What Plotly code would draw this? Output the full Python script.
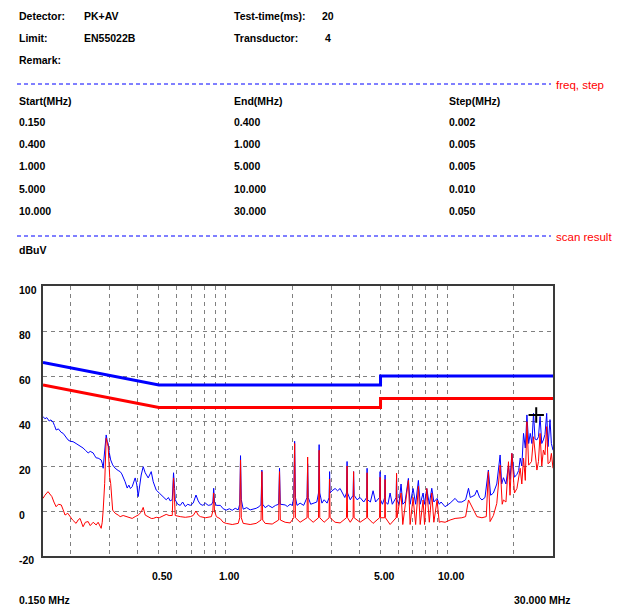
import math
import plotly.graph_objects as go

# ---------------- data ----------------
limit_freq = [0.15, 0.5, 5.0, 5.0, 30.0]
qp_limit = [66, 56, 56, 60, 60]
av_limit = [56, 46, 46, 50, 50]

pk_freq = [0.150, 0.153, 0.156, 0.160, 0.163, 0.1665, 0.169, 0.172, 0.176, 0.181, 0.185, 0.189, 0.1945, 0.199,
           0.205, 0.2115, 0.216, 0.2204, 0.2274, 0.233, 0.2398, 0.245, 0.2526, 0.257, 0.2606, 0.266, 0.2745,
           0.278, 0.2803, 0.283, 0.2865, 0.2892, 0.2925, 0.2952, 0.2985, 0.3030, 0.3093, 0.3174, 0.3275, 0.3344,
           0.340, 0.3450, 0.352, 0.3597, 0.366, 0.372, 0.3788, 0.3908, 0.397, 0.4032, 0.409, 0.4160, 0.4248,
           0.4337, 0.4474, 0.4617, 0.4714, 0.4863, 0.5017, 0.5123, 0.5396, 0.552, 0.562, 0.5744, 0.5822,
           0.5885, 0.5925, 0.608, 0.6242, 0.640, 0.6578, 0.675, 0.6929, 0.714, 0.7353, 0.752, 0.7690, 0.790,
           0.8099, 0.835, 0.8626, 0.876, 0.8835, 0.891, 0.9085, 0.9471, 0.975, 1.0063, 1.04, 1.0711, 1.105,
           1.1400, 1.158, 1.1675, 1.177, 1.2006, 1.245, 1.2907, 1.3738, 1.42, 1.445, 1.4577, 1.470, 1.5082,
           1.56, 1.6222, 1.68, 1.735, 1.7508, 1.765, 1.8560, 1.90, 1.9548, 2.00, 2.030, 2.0484, 2.066, 2.10,
           2.1686, 2.25, 2.33, 2.3449, 2.36, 2.42, 2.4828, 2.58, 2.625, 2.6420, 2.66, 2.72, 2.7831, 2.87, 2.93,
           2.9464, 2.96, 3.02, 3.1191, 3.2, 3.2856, 3.38, 3.45, 3.51, 3.5319, 3.55, 3.65, 3.76, 3.7791, 3.80,
           3.92, 4.0426, 4.2, 4.33, 4.3483, 4.37, 4.5, 4.6277, 4.75, 4.95, 4.9771, 5.00, 5.10, 5.22, 5.2420,
           5.26, 5.4, 5.5214, 5.65, 5.88, 5.9062, 5.93, 6.05, 6.1886, 6.3, 6.45, 6.6775, 6.8, 7.0116, 7.2,
           7.4083, 7.55, 7.7795, 7.9, 8.0836, 8.3, 8.5154, 8.7, 8.9960, 9.2, 9.3790, 9.7777, 10.30, 10.85,
           11.2, 11.64, 12.1, 12.47, 12.7, 12.92, 13.3, 13.61, 14.0, 14.34, 14.8, 15.33, 15.7, 16.15, 16.73,
           17.32, 17.6, 17.93, 18.4, 18.89, 19.2, 19.57, 20.1, 20.62, 21.0, 21.34, 21.7, 22.09, 22.5, 22.88,
           23.3, 23.68, 24.1, 24.50, 24.9, 25.38, 25.8, 26.23, 26.7, 27.15, 27.6, 28.10, 28.5, 29.08, 29.5, 30.0]
pk_level = [42, 41, 41.5, 40, 40.5, 39.5, 38, 36, 36.5, 35, 34.5, 33, 31.6, 31,
            30.8, 30, 29.5, 29, 28, 27, 25.8, 26.5, 25.8, 24.5, 23.6, 23.5, 22.7,
            21, 19, 24, 30, 33.8, 31, 30, 26, 22.7, 20.5, 19, 18, 17.5,
            16.5, 15.2, 13, 10.2, 11.5, 10, 10.8, 14.7, 12, 6.4, 12, 16, 19.7,
            17, 14.7, 17.5, 13, 9.3, 8, 7.1, 5, 6, 4.5, 5, 17,
            10, 5, 3, 2.5, 4, 2, 3, 2.5, 3.5, 7.1, 4.5, 3, 2.5,
            3.5, 2.5, 2.8, 4, 10.1, 4, 2.5, 2.5, 1, 0.4, 1, 0.3, 1.2,
            0.5, 3, 24.6, 5, 0.8, 1.5, 0.5, 1.2, 2, 3, 18.2, 3, 1.5,
            2.5, 1.5, 2.5, 3, 19, 3, 2.7, 2, 3, 2.5, 6, 31, 6, 2.5,
            3.5, 2.5, 6, 21, 6, 3, 3.5, 4, 8, 29.5, 8, 3.5, 5, 3.5, 6,
            17.5, 8, 9, 10, 9, 10, 8, 6, 8, 22, 8, 5, 7, 17.5, 7,
            5, 6, 4, 6, 19, 5, 4, 9, 4, 6, 17.5, 5, 3, 6, 16,
            4, 3, 8, 3, 6, 16, 5, 3, 12, 3, 4, 14.5, 3, 10, 3,
            13.6, 3, 8, 3, 10, 3, 10.1, 4, 5.6, 3, 4, 1.9, 3.5, 5.6,
            4, 4, 5, 10.1, 6, 6.4, 7, 9.3, 6, 4.9, 6, 18.2, 7, 8, 12,
            24.9, 12, 14.8, 12, 20.4, 14, 25.6, 15, 16.3, 18, 23.5, 20, 34.5, 28, 42.7,
            30, 34.5, 30, 43.4, 32, 31.6, 33, 42, 30, 31.6, 34, 43.4, 28.6, 40.6, 30, 27]

av_freq = [0.150, 0.153, 0.158, 0.161, 0.1645, 0.168, 0.1719, 0.176, 0.1813, 0.185, 0.1886, 0.194, 0.1986,
           0.204, 0.2115, 0.216, 0.2204, 0.2274, 0.233, 0.2398, 0.245, 0.2526, 0.2606, 0.266, 0.2745, 0.2775,
           0.2803, 0.2847, 0.2892, 0.2952, 0.3000, 0.3030, 0.3093, 0.3174, 0.3275, 0.3344, 0.3450, 0.3597,
           0.3788, 0.3908, 0.4032, 0.4160, 0.4248, 0.4337, 0.4474, 0.4617, 0.4714, 0.4863, 0.5017, 0.5396,
           0.556, 0.5744, 0.5822, 0.5885, 0.5925, 0.624, 0.6578, 0.6929, 0.714, 0.7353, 0.752, 0.7690, 0.8099,
           0.8626, 0.876, 0.8835, 0.891, 0.9085, 0.9471, 0.975, 1.0063, 1.0711, 1.1400, 1.158, 1.1675, 1.177,
           1.2006, 1.2907, 1.3738, 1.445, 1.4577, 1.470, 1.5082, 1.6222, 1.735, 1.7508, 1.765, 1.8560, 1.9548,
           2.030, 2.0484, 2.066, 2.1686, 2.33, 2.3449, 2.36, 2.4828, 2.625, 2.6420, 2.66, 2.7831, 2.93, 2.9464,
           2.96, 3.1191, 3.2856, 3.51, 3.5319, 3.55, 3.65, 3.76, 3.7791, 3.80, 4.0426, 4.33, 4.3483, 4.37,
           4.6277, 4.95, 4.9771, 5.00, 5.22, 5.2420, 5.26, 5.5214, 5.88, 5.9062, 5.93, 6.1886, 6.3, 6.6775,
           6.8, 7.0116, 7.2, 7.4083, 7.55, 7.7795, 7.9, 8.0836, 8.3, 8.5154, 8.7, 8.9960, 9.2, 9.3790, 9.7777,
           10.30, 10.85, 11.64, 12.1, 12.47, 12.92, 13.61, 14.34, 15.0, 15.33, 15.6, 16.15, 16.73, 17.32, 17.7,
           17.93, 18.4, 18.89, 19.2, 19.57, 20.1, 20.62, 21.34, 21.7, 22.09, 22.5, 22.88, 23.3, 24.0, 24.50,
           25.0, 25.38, 25.8, 26.23, 26.7, 27.15, 27.6, 28.10, 28.5, 29.08, 29.5, 30.0]
av_level = [5.6, 7, 8.6, 7.5, 6.4, 4, 1.9, 3, 2.7, 0.5, -1.8, -1, -2.5,
            -4, -5.5, -4, -3.3, -7, -5, -4.7, -6.5, -5, -6.2, -5, -7.7, -5,
            0.4, 12.3, 32.3, 28.6, 15, 12.3, 0.4, -1, -1.8, -2.5, -2, -2.5,
            -3.3, -2.5, -1.8, -0.5, 1.6, -1.8, -2.5, -3.3, -3.3, -2.8, -3, -1.5,
            -2, -2, 14.7, 3, -2, -2.5, -2.8, -2.5, -2, 0, -1.8, -2.5, -3,
            -2.5, 0, 8, 0, -2.5, -3.5, -5, -5.5, -6, -5.5, -3, 22.7, -3,
            -5.5, -6, -5.5, -4, 17.5, -4, -5.5, -5.8, -4, 17.5, -4, -5, -5.3,
            -3, 30, -3, -5, -3, 24, -3, -5, -3, 27, -3, -5, -3, 14.2,
            -3, -5, -5.3, -3, 20, -3, -5, -3, 17.5, -3, -5, -3, 17, -3,
            -5.5, -3, 15, -3, -3, 14, -3, -6, -3, 16.8, -3, 8, -6, 13.6,
            -6, 6, -6, 11, -6, 4.9, -6, 10, -5, 8, -5, 4.9, -5, -4.7, -5,
            -4, -3.3, -3, -2.5, 4.9, 1.9, -2.5, -3, -2.5, 17.5, -4.7, -2, 3.4, 20.4, 3,
            4.9, 4, 21.9, 7, 25.6, 8, 10, 19, 12, 23.5, 13.6, 39.7, 20.4, 22, 33,
            25, 18.2, 22, 34.5, 20, 27.1, 25, 37.5, 21, 21.8, 25.6, 19]

marker_freq = [25.2]
marker_level = [42.7]

y_ticks = [100, 80, 60, 40, 20, 0, -20]
x_label_vals = [0.5, 1.0, 5.0, 10.0]
x_label_text = ["0.50", "1.00", "5.00", "10.00"]
x_grid_vals = [0.2, 0.3, 0.4, 0.5, 0.6, 0.7, 0.8, 0.9, 1, 2, 3, 4, 5, 6, 7, 8, 9, 10, 20]

header_left = [("Detector:", "PK+AV"), ("Limit:", "EN55022B"), ("Remark:", "")]
header_right = [("Test-time(ms):", "20"), ("Transductor:", "4")]
table_head = ["Start(MHz)", "End(MHz)", "Step(MHz)"]
table_rows = [["0.150", "0.400", "0.002"],
              ["0.400", "1.000", "0.005"],
              ["1.000", "5.000", "0.005"],
              ["5.000", "10.000", "0.010"],
              ["10.000", "30.000", "0.050"]]

# ---------------- layout helpers ----------------
W, H = 621, 610
L, R, T, B = 43, 553, 286, 556


def px(x):
    return (x - L) / (R - L)


def py(y):
    return (B - y) / (B - T)


FONT = "Liberation Sans, Arial, sans-serif"
TXT = dict(family=FONT, size=10.5, color="#000000", weight="bold")

fig = go.Figure()
fig.add_trace(go.Scatter(x=pk_freq, y=pk_level, mode="lines",
                         line=dict(color="#0000ff", width=1), hoverinfo="skip"))
fig.add_trace(go.Scatter(x=av_freq, y=av_level, mode="lines",
                         line=dict(color="#ff0000", width=1), hoverinfo="skip"))
fig.add_trace(go.Scatter(x=limit_freq, y=qp_limit, mode="lines",
                         line=dict(color="#0000ff", width=3), hoverinfo="skip"))
fig.add_trace(go.Scatter(x=limit_freq, y=av_limit, mode="lines",
                         line=dict(color="#ff0000", width=3), hoverinfo="skip"))
fig.add_trace(go.Scatter(x=marker_freq, y=marker_level, mode="markers",
                         marker=dict(symbol="cross-thin", size=11, line=dict(color="#000000", width=2)),
                         hoverinfo="skip"))

ann = []


def text(x, y, s, font=TXT, xanchor="left"):
    ann.append(dict(x=px(x), y=py(y), xref="paper", yref="paper", text=s, showarrow=False,
                    xanchor=xanchor, yanchor="middle", font=font))


rows_y = [16, 38, 60]
for (k, v), yy in zip(header_left, rows_y):
    text(17, yy, k)
    if v:
        text(82, yy, v)
for (k, v), yy in zip(header_right, rows_y):
    text(232, yy, k)
    text(320 if k.startswith("Test") else 323, yy, v)

cols_x = [17, 232, 447]
for cx, h in zip(cols_x, table_head):
    text(cx, 101, h)
row_y = [122, 144, 166, 189, 211]
for ry, row in zip(row_y, table_rows):
    for cx, cell in zip(cols_x, row):
        text(cx, ry, cell)

RED_TXT = dict(family=FONT, size=11.5, color="#ff0000")
text(554, 85, "freq, step", RED_TXT)
text(554, 237, "scan result", RED_TXT)
text(17, 250, "dBuV")

# y tick labels (left aligned)
for v in y_ticks:
    ann.append(dict(x=px(17), y=v, xref="paper", yref="y", text=str(v), showarrow=False,
                    xanchor="left", yanchor="middle", yshift=-4, font=TXT))
# x tick labels
for v, s in zip(x_label_vals, x_label_text):
    ann.append(dict(x=math.log10(v), y=py(576), xref="x", yref="paper", text=s, showarrow=False,
                    xanchor="center", yanchor="middle", xshift=4, font=TXT))
text(17, 600, "0.150 MHz")
text(573, 600, "30.000 MHz", xanchor="right")

shapes = []
for yy in (84, 236):
    shapes.append(dict(type="line", xref="paper", yref="paper", x0=px(17), x1=px(551), y0=py(yy), y1=py(yy),
                       line=dict(color="#0000ff", width=1, dash="4px,3px")))

fig.update_layout(
    width=W, height=H,
    margin=dict(l=L, r=W - R, t=T, b=H - B, pad=0),
    paper_bgcolor="white", plot_bgcolor="white",
    showlegend=False,
    annotations=ann, shapes=shapes,
    xaxis=dict(type="log", range=[math.log10(0.15), math.log10(30)],
               tickvals=x_grid_vals, showticklabels=False, ticks="",
               showgrid=True, gridcolor="#808080", gridwidth=1, griddash="4px,4px",
               showline=True, linecolor="#3a3a3a", linewidth=2, mirror=True, zeroline=False),
    yaxis=dict(range=[-20, 100], tickvals=y_ticks, showticklabels=False, ticks="",
               showgrid=True, gridcolor="#808080", gridwidth=1, griddash="4px,4px",
               showline=True, linecolor="#3a3a3a", linewidth=2, mirror=True, zeroline=False),
)

fig.write_html("out.html", config={"displayModeBar": False},
               post_script="document.body.style.margin='0';document.body.style.padding='0';")
